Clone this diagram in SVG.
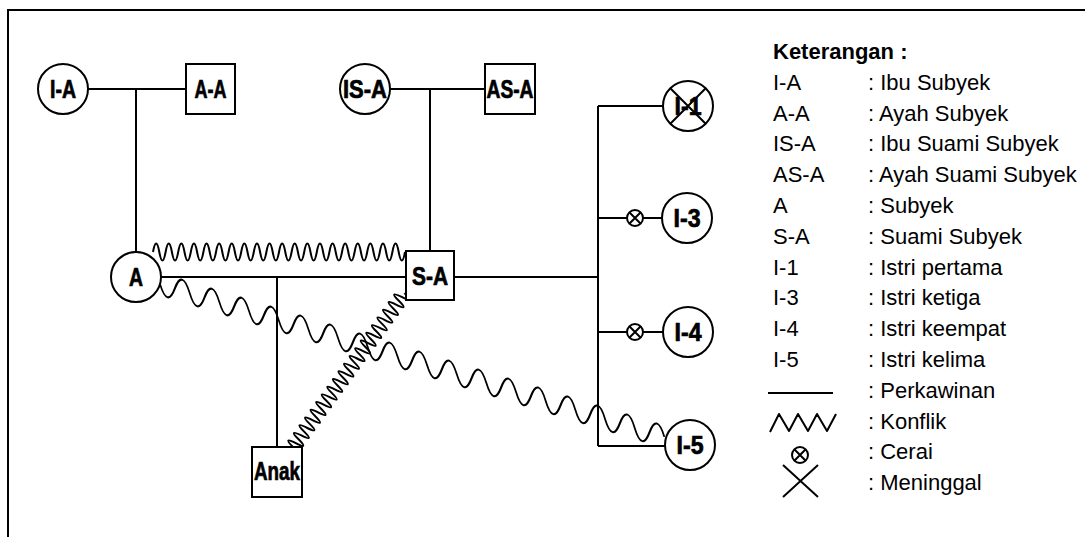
<svg xmlns="http://www.w3.org/2000/svg" width="1085" height="537" viewBox="0 0 1085 537">
<style>
.n{fill:#fff;stroke:#000;stroke-width:2}
.c{fill:none;stroke:#000;stroke-width:2}
.w{fill:none;stroke:#000;stroke-width:2;stroke-linejoin:round}
.lbl{font-family:"Liberation Sans Narrow","Liberation Sans",sans-serif;font-weight:bold;font-size:25px;text-anchor:middle;fill:#000;stroke:#000;stroke-width:0.7}
.lg{font-family:"Liberation Sans",Arial,sans-serif;font-size:22px;fill:#000}
.x{stroke:#000;stroke-width:2}
</style>
<defs>
<g id="cerai"><circle r="8" class="n"/><path d="M-5.7,-5.7L5.7,5.7M5.7,-5.7L-5.7,5.7" class="c" stroke-width="1.6"/></g>
</defs>
<rect width="1085" height="537" fill="#fff"/>
<path d="M8,537V10H1085" class="c"/>
<g id="connectors">
<path class="c" d="M88,89H186M136,89V252"/>
<path class="c" d="M390,89H485M430,89V251"/>
<path class="c" d="M161,277H406M277,277V447"/>
<path class="c" d="M454,277H598M598,106V446M598,106H663M598,218H662M598,332H663M598,446H665"/>
<use href="#cerai" x="635" y="218"/>
<use href="#cerai" x="635" y="332"/>
<path class="w" d="M153,252q3.15,-17 6.3,0t6.3,0t6.3,0t6.3,0t6.3,0t6.3,0t6.3,0t6.3,0t6.3,0t6.3,0t6.3,0t6.3,0t6.3,0t6.3,0t6.3,0t6.3,0t6.3,0t6.3,0t6.3,0t6.3,0t6.3,0t6.3,0t6.3,0t6.3,0t6.3,0t6.3,0t6.3,0t6.3,0t6.3,0t6.3,0t6.3,0t6.3,0t6.3,0t6.3,0t6.3,0t6.3,0t6.3,0t6.3,0t6.3,0t6.3,0"/>
<path class="w" transform="matrix(0.957,0.29,0,1,160,284)" d="M0,0q7.75,22 15.5,0t15.5,0t15.5,0t15.5,0t15.5,0t15.5,0t15.5,0t15.5,0t15.5,0t15.5,0t15.5,0t15.5,0t15.5,0t15.5,0t15.5,0t15.5,0t15.5,0t15.5,0t15.5,0t15.5,0t15.5,0t15.5,0t15.5,0t15.5,0t15.5,0t15.5,0t15.5,0t15.5,0t15.5,0t15.5,0t15.5,0t15.5,0t15.5,0t15.5,0"/>
<path class="w" transform="translate(293,447) rotate(-54.1)" d="M0,0q2.375,-15 4.75,0t4.75,0t4.75,0t4.75,0t4.75,0t4.75,0t4.75,0t4.75,0t4.75,0t4.75,0t4.75,0t4.75,0t4.75,0t4.75,0t4.75,0t4.75,0t4.75,0t4.75,0t4.75,0t4.75,0t4.75,0t4.75,0t4.75,0t4.75,0t4.75,0t4.75,0t4.75,0t4.75,0t4.75,0t4.75,0t4.75,0t4.75,0t4.75,0t4.75,0t4.75,0t4.75,0t4.75,0t4.75,0t4.75,0t4.75,0"/>
</g>
<g id="node-IA"><circle cx="63" cy="89" r="25" class="n"/><text x="63" y="98" class="lbl" textLength="26" lengthAdjust="spacingAndGlyphs">I-A</text></g>
<g id="node-AA"><rect x="186" y="64" width="49" height="50" class="n"/><text x="210.5" y="98" class="lbl" textLength="32" lengthAdjust="spacingAndGlyphs">A-A</text></g>
<g id="node-ISA"><circle cx="365" cy="89" r="25" class="n"/><text x="365" y="98" class="lbl" textLength="44" lengthAdjust="spacingAndGlyphs">IS-A</text></g>
<g id="node-ASA"><rect x="485" y="64" width="50" height="50" class="n"/><text x="510" y="98" class="lbl" textLength="47" lengthAdjust="spacingAndGlyphs">AS-A</text></g>
<g id="node-A"><circle cx="136" cy="277" r="25" class="n"/><text x="136" y="286" class="lbl" textLength="14" lengthAdjust="spacingAndGlyphs">A</text></g>
<g id="node-SA"><rect x="406" y="251" width="48" height="49" class="n"/><text x="430" y="285" class="lbl" textLength="36" lengthAdjust="spacingAndGlyphs">S-A</text></g>
<g id="node-Anak"><rect x="252" y="447" width="50" height="50" class="n"/><text x="277" y="480" class="lbl" textLength="46" lengthAdjust="spacingAndGlyphs">Anak</text></g>
<g id="node-I1"><circle cx="688" cy="106" r="25" class="n"/><text x="688" y="115" class="lbl" textLength="27" lengthAdjust="spacingAndGlyphs">I-1</text><path class="x" d="M670.3,88.3L705.7,123.7M705.7,88.3L670.3,123.7"/></g>
<g id="node-I3"><circle cx="687" cy="218" r="25" class="n"/><text x="687" y="227" class="lbl" textLength="27" lengthAdjust="spacingAndGlyphs">I-3</text></g>
<g id="node-I4"><circle cx="688" cy="332" r="25" class="n"/><text x="688" y="341" class="lbl" textLength="27" lengthAdjust="spacingAndGlyphs">I-4</text></g>
<g id="node-I5"><circle cx="690" cy="445" r="25" class="n"/><text x="690" y="454" class="lbl" textLength="27" lengthAdjust="spacingAndGlyphs">I-5</text></g>
<g id="legend">
<text x="773" y="59" class="lg" font-weight="bold">Keterangan :</text>
<text x="773" y="90" class="lg">I-A</text><text x="868" y="90" class="lg">: Ibu Subyek</text>
<text x="773" y="121" class="lg">A-A</text><text x="868" y="121" class="lg">: Ayah Subyek</text>
<text x="773" y="151" class="lg">IS-A</text><text x="868" y="151" class="lg">: Ibu Suami Subyek</text>
<text x="773" y="182" class="lg">AS-A</text><text x="868" y="182" class="lg">: Ayah Suami Subyek</text>
<text x="773" y="213" class="lg">A</text><text x="868" y="213" class="lg">: Subyek</text>
<text x="773" y="244" class="lg">S-A</text><text x="868" y="244" class="lg">: Suami Subyek</text>
<text x="773" y="275" class="lg">I-1</text><text x="868" y="275" class="lg">: Istri pertama</text>
<text x="773" y="305" class="lg">I-3</text><text x="868" y="305" class="lg">: Istri ketiga</text>
<text x="773" y="336" class="lg">I-4</text><text x="868" y="336" class="lg">: Istri keempat</text>
<text x="773" y="367" class="lg">I-5</text><text x="868" y="367" class="lg">: Istri kelima</text>
<path class="c" d="M768,393H833"/><text x="868" y="398" class="lg">: Perkawinan</text>
<path class="w" d="M770,432L779,414L789,431L798,414L808,431L817,414L827,431L836,414"/><text x="868" y="429" class="lg">: Konflik</text>
<use href="#cerai" x="800" y="455"/><text x="868" y="459" class="lg">: Cerai</text>
<path class="c" d="M783,465L818,497M818,465L783,497"/><text x="868" y="490" class="lg">: Meninggal</text>
</g>
</svg>
